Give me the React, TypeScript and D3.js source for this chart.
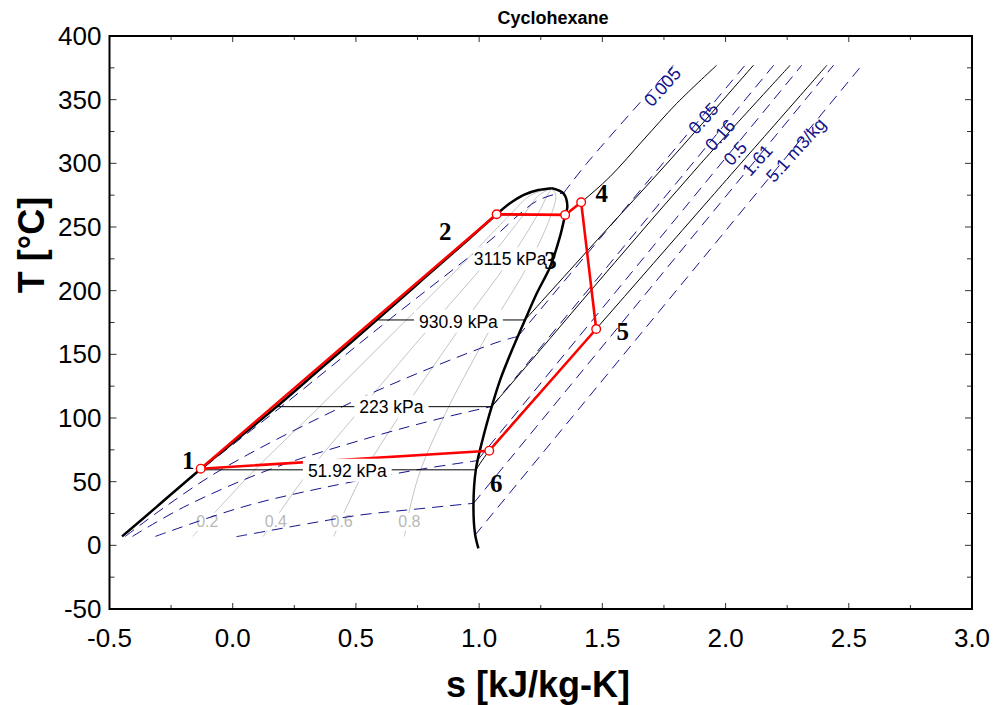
import React from "react";
import * as d3 from "d3";

// ---------- data ----------
const xMajor = [-0.5, 0, 0.5, 1, 1.5, 2, 2.5, 3];
const xMajorLabels = ["-0.5", "0.0", "0.5", "1.0", "1.5", "2.0", "2.5", "3.0"];
const xMinor = [-0.25, 0.25, 0.75, 1.25, 1.75, 2.25, 2.75];
const yMajor = [-50, 0, 50, 100, 150, 200, 250, 300, 350, 400];
const yMinor = [-25, 25, 75, 125, 175, 225, 275, 325, 375];

// saturation dome
const satLiqS = [-0.449, -0.31, -0.13, 0.06, 0.179, 0.364, 0.591, 0.778, 0.955, 1.071, 1.125, 1.179, 1.24, 1.295];
const satLiqT = [7, 30, 60, 90, 109, 140, 178, 210, 240, 260, 268.6, 275.1, 279, 280.5];
const satVapS = [1.295, 1.342, 1.358, 1.349, 1.328, 1.288, 1.234, 1.186, 1.139, 1.085, 1.051, 1.017, 0.987, 0.977, 0.983, 0.997];
const satVapT = [280.5, 276.4, 266, 259.4, 242.4, 218.8, 197.9, 177, 156, 129.8, 108.9, 85.3, 59.9, 33, 9.4, -2.4];

// quality lines (x = 0.2, 0.4, 0.6, 0.8)
const qualityNames = ["0.2", "0.4", "0.6", "0.8"];
const qualityT = [7, 30, 60, 109, 140, 178, 222, 260, 275, 280.5];
const qualityS02 = [-0.163, -0.053, 0.093, 0.353, 0.513, 0.71, 0.938, 1.127, 1.209, 1.295];
const qualityS04 = [0.124, 0.205, 0.317, 0.528, 0.662, 0.83, 1.027, 1.182, 1.243, 1.295];
const qualityS06 = [0.41, 0.462, 0.54, 0.702, 0.812, 0.949, 1.115, 1.238, 1.277, 1.295];
const qualityS08 = [0.697, 0.72, 0.764, 0.877, 0.961, 1.069, 1.204, 1.293, 1.311, 1.295];
const qualityLabelS = [-0.103, 0.175, 0.442, 0.717];
const qualityLabelT = 18.5;

// isobars
const isobarNames = ["3115 kPa", "930.9 kPa", "223 kPa", "51.92 kPa"];
const isobarSatT = [259.5, 177, 108.9, 59.3];
const isobarLiqS = [1.071, 0.591, 0.179, -0.133];
const isobarVapS = [1.349, 1.186, 1.051, 0.987];
const isobarLabelS = [1.126, 0.916, 0.644, 0.465];
const isobarLabelT = [224.6, 175.6, 108.4, 58.6];
const sh3115S = [1.349, 1.414, 1.531, 1.666, 1.802, 1.964];
const sh3115T = [259.5, 269.4, 289.5, 318.3, 347.1, 377];
const sh930S = [1.186, 1.48, 1.775, 2.113];
const sh930T = [177, 240, 302.7, 377];
const sh223S = [1.051, 1.213, 1.55, 1.9, 2.262];
const sh223T = [108.9, 145.5, 222, 300, 377];
const sh52S = [0.987, 1.041, 1.475, 1.94, 2.411];
const sh52T = [59.3, 74.3, 170, 273, 377];

// isochores
const isochoreNames = ["0.005", "0.05", "0.16", "0.5", "1.61", "5.1 m3/kg"];
const dome0005S = [-0.449, -0.124, 0.198, 0.64, 0.93, 1.06, 1.163, 1.23, 1.30, 1.342];
const dome0005T = [7, 60, 109, 178, 222, 242, 260, 270, 275.3, 276.5];
const dome005S = [-0.436, -0.276, -0.042, 0.446, 0.812, 1.082, 1.157];
const dome005T = [7, 30, 60, 109, 140, 160, 164];
const dome016S = [-0.407, -0.199, 0.156, 0.563, 0.85, 1.051];
const dome016T = [7, 30, 60, 85, 100, 109];
const dome05S = [-0.314, 0.038, 0.362, 0.77, 0.992];
const dome05T = [7, 30, 45, 60, 66.5];
const dome161S = [0.015, 0.314, 0.517, 0.706, 0.977];
const dome161T = [6.8, 17.3, 23.8, 27.7, 33];
const sup0005S = [1.342, 1.437, 1.788];
const sup0005T = [276.5, 300, 377];
const sup005S = [1.157, 2.079];
const sup005T = [164, 377];
const sup016S = [1.051, 2.195];
const sup016T = [109, 377];
const sup05S = [0.992, 2.309];
const sup05T = [66.5, 377];
const sup161S = [0.977, 2.438];
const sup161T = [33, 377];
const sup51S = [0.983, 2.553];
const sup51T = [8, 377];
const isochoreLabelS = [1.744, 1.91, 1.978, 2.039, 2.129, 2.285];
const isochoreLabelT = [360.2, 335.3, 322.2, 307.9, 302.6, 310.5];

// cycle states
const stateNames = ["1", "2", "3", "4", "5", "6"];
const stateS = [-0.13, 1.071, 1.349, 1.414, 1.475, 1.041];
const stateT = [60.2, 260.0, 259.5, 269.4, 169.9, 74.3];
const stateLabelS = [-0.18, 0.862, 1.290, 1.498, 1.583, 1.069];
const stateLabelT = [67.0, 246.3, 223.8, 276.4, 167.8, 48.7];

// ---------- drawing ----------
const W = 998;
const H = 705;
const L = 109.5, R = 972, T0 = 36, B = 609;
const SANS = "'Liberation Sans', Arial, Helvetica, sans-serif";
const SERIF = "'Liberation Serif', 'Times New Roman', serif";
const NAVY = "#14148c";

const zip = (a: number[], b: number[]) => a.map((v, i) => [v, b[i]] as [number, number]);

function measure(text: string, font: string) {
  const c = document.createElement("canvas").getContext("2d");
  if (!c) return text.length * 9;
  c.font = font;
  return c.measureText(text).width;
}

export default function App() {
  const x = d3.scaleLinear().domain([-0.5, 3]).range([L, R]);
  const y = d3.scaleLinear().domain([-50, 400]).range([B, T0]);
  const smooth = d3.line<[number, number]>().x(d => x(d[0])).y(d => y(d[1])).curve(d3.curveCatmullRom.alpha(0.5));
  const straight = d3.line<[number, number]>().x(d => x(d[0])).y(d => y(d[1]));

  const qualityS = [qualityS02, qualityS04, qualityS06, qualityS08];
  const domeIso = [zip(dome0005S, dome0005T), zip(dome005S, dome005T), zip(dome016S, dome016T), zip(dome05S, dome05T), zip(dome161S, dome161T)];
  const supIso = [zip(sup0005S, sup0005T), zip(sup005S, sup005T), zip(sup016S, sup016T), zip(sup05S, sup05T), zip(sup161S, sup161T), zip(sup51S, sup51T)];
  const shIsobars = [zip(sh3115S, sh3115T), zip(sh930S, sh930T), zip(sh223S, sh223T), zip(sh52S, sh52T)];
  const cycle = zip([...stateS, stateS[0]], [...stateT, stateT[0]]);

  const isoFont = `17.5px ${SANS}`;
  const qFont = `16px ${SANS}`;

  return (
    <svg width={W} height={H} style={{ position: "absolute", left: 0, top: 0, background: "#fff" }}
      xmlns="http://www.w3.org/2000/svg">
      <rect x={0} y={0} width={W} height={H} fill="#fff" />
      <defs>
        <clipPath id="plot"><rect x={L} y={T0} width={R - L} height={B - T0} /></clipPath>
      </defs>

      <g clipPath="url(#plot)">
        {/* quality lines */}
        {qualityS.map((s, i) => (
          <path key={"q" + i} d={smooth(zip(s, qualityT)) || ""} fill="none" stroke="#c4c4c4" strokeWidth={1} />
        ))}
        {qualityNames.map((n, i) => {
          const w = measure(n, qFont);
          return (
            <g key={"ql" + i}>
              <rect x={x(qualityLabelS[i]) - w / 2 - 2} y={y(qualityLabelT) - 9} width={w + 4} height={18} fill="#fff" />
              <text x={x(qualityLabelS[i])} y={y(qualityLabelT)} dy="0.35em" textAnchor="middle"
                fontFamily={SANS} fontSize={16} fill="#b8b8b8">{n}</text>
            </g>
          );
        })}

        {/* isochores */}
        {domeIso.map((p, i) => (
          <path key={"di" + i} d={smooth(p) || ""} fill="none" stroke={NAVY} strokeWidth={1} strokeDasharray="11,7" />
        ))}
        {supIso.map((p, i) => (
          <path key={"si" + i} d={smooth(p) || ""} fill="none" stroke={NAVY} strokeWidth={1} strokeDasharray="11,7" />
        ))}

        {/* isobars */}
        {isobarSatT.map((t, i) => (
          <line key={"ib" + i} x1={x(isobarLiqS[i])} x2={x(isobarVapS[i])} y1={y(t)} y2={y(t)} stroke="#000" strokeWidth={1} />
        ))}
        {shIsobars.map((p, i) => (
          <path key={"sh" + i} d={smooth(p) || ""} fill="none" stroke="#000" strokeWidth={1} />
        ))}

        {/* dome */}
        <path d={smooth(zip(satLiqS, satLiqT)) || ""} fill="none" stroke="#000" strokeWidth={2.5} />
        <path d={smooth(zip(satVapS, satVapT)) || ""} fill="none" stroke="#000" strokeWidth={2.5} />

        {/* isochore labels */}
        {isochoreNames.map((n, i) => (
          <text key={"il" + i} x={x(isochoreLabelS[i])} y={y(isochoreLabelT[i])} dy="0.35em" textAnchor="middle"
            fontFamily={SANS} fontSize={18} fill={NAVY}
            transform={`rotate(-48 ${x(isochoreLabelS[i])} ${y(isochoreLabelT[i])})`}>{n}</text>
        ))}

        {/* cycle */}
        <path d={straight(cycle) || ""} fill="none" stroke="#ff0000" strokeWidth={2.6} strokeLinejoin="round" />

        {/* isobar labels */}
        {isobarNames.map((n, i) => {
          const w = measure(n, isoFont);
          const cx = x(isobarLabelS[i]);
          const cy = y(isobarLabelT[i]);
          const pad = i === 0 ? 1 : 5;
          return (
            <g key={"pl" + i}>
              <rect x={cx - w / 2 - pad} y={cy - 12} width={w + 2 * pad} height={23} fill="#fff" />
              <text x={cx} y={cy} dy="0.35em" textAnchor="middle" fontFamily={SANS} fontSize={17.5} fill="#000">{n}</text>
            </g>
          );
        })}

        {/* state labels */}
        {stateNames.map((n, i) => (
          <text key={"sl" + i} x={x(stateLabelS[i])} y={y(stateLabelT[i])} dy="0.35em" textAnchor="middle"
            fontFamily={SERIF} fontWeight="bold" fontSize={25} fill="#000">{n}</text>
        ))}

        {/* state markers */}
        {stateS.map((s, i) => (
          <circle key={"c" + i} cx={x(s)} cy={y(stateT[i])} r={4.3} fill="#fff" stroke="#ff0000" strokeWidth={1.4} />
        ))}
      </g>

      {/* ticks */}
      {xMajor.map(v => (
        <g key={"xt" + v}>
          <line x1={x(v)} x2={x(v)} y1={B} y2={B - 6} stroke="#333" strokeWidth={1} />
          <line x1={x(v)} x2={x(v)} y1={T0} y2={T0 + 6} stroke="#333" strokeWidth={1} />
        </g>
      ))}
      {xMinor.map(v => (
        <g key={"xm" + v}>
          <line x1={x(v)} x2={x(v)} y1={B} y2={B - 4} stroke="#333" strokeWidth={1} />
          <line x1={x(v)} x2={x(v)} y1={T0} y2={T0 + 4} stroke="#333" strokeWidth={1} />
        </g>
      ))}
      {yMajor.map(v => (
        <g key={"yt" + v}>
          <line x1={L} x2={L + 7} y1={y(v)} y2={y(v)} stroke="#333" strokeWidth={1} />
          <line x1={R} x2={R - 7} y1={y(v)} y2={y(v)} stroke="#333" strokeWidth={1} />
        </g>
      ))}
      {yMinor.map(v => (
        <g key={"ym" + v}>
          <line x1={L} x2={L + 5} y1={y(v)} y2={y(v)} stroke="#333" strokeWidth={1} />
          <line x1={R} x2={R - 5} y1={y(v)} y2={y(v)} stroke="#333" strokeWidth={1} />
        </g>
      ))}

      {/* frame */}
      <rect x={L} y={T0} width={R - L} height={B - T0} fill="none" stroke="#000" strokeWidth={2} />

      {/* tick labels */}
      {xMajor.map((v, i) => (
        <text key={"xl" + v} x={x(v)} y={B + 38} textAnchor="middle" fontFamily={SANS} fontSize={26} fill="#000">{xMajorLabels[i]}</text>
      ))}
      {yMajor.map(v => (
        <text key={"yl" + v} x={101.5} y={y(v)} dy="0.35em" textAnchor="end" fontFamily={SANS} fontSize={26} fill="#000">{String(v)}</text>
      ))}

      {/* titles */}
      <text x={553} y={24} textAnchor="middle" fontFamily={SANS} fontWeight="bold" fontSize={18} fill="#000">Cyclohexane</text>
      <text x={538} y={697} textAnchor="middle" fontFamily={SANS} fontWeight="bold" fontSize={36} fill="#000">s [kJ/kg-K]</text>
      <text x={0} y={0} transform="translate(44 245) rotate(-90)" textAnchor="middle" fontFamily={SANS} fontWeight="bold" fontSize={36} fill="#000">T [°C]</text>
    </svg>
  );
}
